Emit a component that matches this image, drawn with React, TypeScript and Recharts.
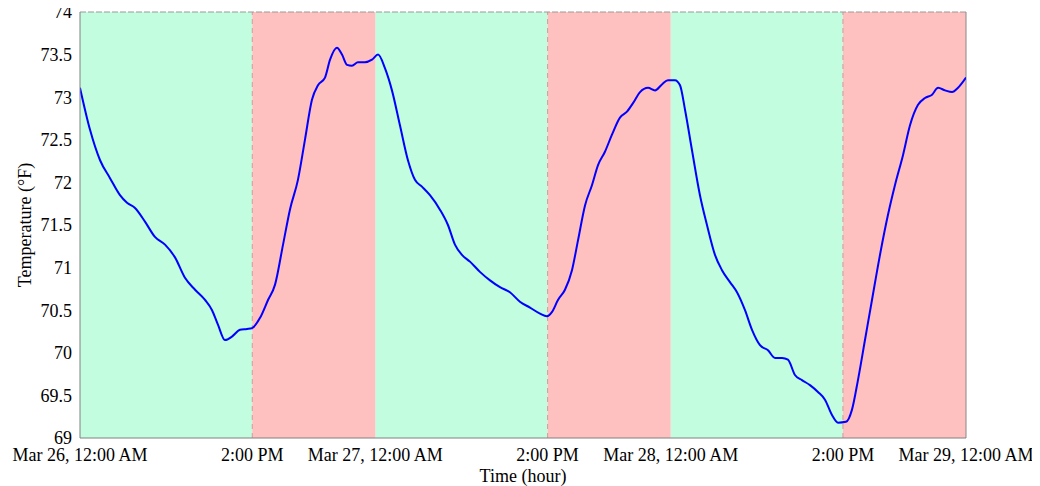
import React from 'react';
import {
  LineChart,
  Line,
  XAxis,
  YAxis,
  ReferenceArea,
  ReferenceLine,
} from 'recharts';

// hours since Mar 26, 12:00 AM
const hours = [
  0, 0.81, 1.63, 2.44, 3.25, 3.82, 4.47, 5.28, 6.09, 6.91, 7.72, 8.53, 9.35, 10.16, 10.73, 11.21,
  11.78, 12.35, 13.0, 13.57, 13.98, 14.63, 15.28, 15.85, 16.5, 17.06, 17.71, 18.28, 18.85, 19.34,
  19.91, 20.32, 20.88, 21.29, 21.7, 22.1, 22.59, 23.16, 23.73, 24.22, 24.78, 25.35, 26.0, 26.65,
  27.22, 27.79, 28.44, 29.25, 29.9, 30.47, 31.04, 31.69, 32.5, 33.32, 34.13, 34.94, 35.75, 36.57,
  37.38, 37.95, 38.36, 38.84, 39.41, 39.98, 40.47, 41.04, 41.61, 42.09, 42.66, 43.23, 43.88, 44.45,
  44.94, 45.51, 46.16, 46.73, 47.29, 47.78, 48.35, 48.76, 49.17, 49.73, 50.38, 50.95, 51.6, 52.17,
  52.82, 53.39, 54.04, 54.61, 55.26, 55.91, 56.48, 57.05, 57.53, 58.1, 58.67, 59.32, 59.97, 60.54,
  61.11, 61.6, 62.25, 62.73, 63.22, 63.79, 64.36, 65.01, 65.66, 66.23, 66.88, 67.45, 68.1, 68.67,
  69.24, 69.73, 70.3, 70.87, 71.35, 72,
];

const temps = [
  73.11, 72.62, 72.26, 72.05, 71.85, 71.76, 71.7, 71.54, 71.36, 71.27, 71.12, 70.88, 70.74, 70.62,
  70.5, 70.33, 70.15, 70.19, 70.27, 70.28, 70.29, 70.41, 70.62, 70.8, 71.27, 71.68, 72.03, 72.5,
  72.97, 73.14, 73.23, 73.44, 73.58, 73.5, 73.38, 73.37, 73.41, 73.41, 73.44, 73.5, 73.34, 73.08,
  72.67, 72.26, 72.03, 71.95, 71.85, 71.68, 71.5, 71.27, 71.15, 71.07, 70.95, 70.85, 70.77, 70.71,
  70.6, 70.53, 70.46, 70.43, 70.48, 70.62, 70.74, 70.97, 71.32, 71.73, 71.97, 72.2, 72.36, 72.56,
  72.76, 72.83, 72.93, 73.06, 73.11, 73.08, 73.15, 73.2, 73.2, 73.14, 72.85, 72.38, 71.85, 71.5,
  71.15, 70.97, 70.83, 70.71, 70.5, 70.27, 70.09, 70.03, 69.94, 69.94, 69.92, 69.74, 69.68, 69.62,
  69.54, 69.45, 69.27, 69.18, 69.19, 69.33, 69.68, 70.15, 70.62, 71.15, 71.62, 71.97, 72.32, 72.67,
  72.91, 72.99, 73.03, 73.11, 73.08, 73.06, 73.11, 73.23,
];

const xTicks = [0, 14, 24, 38, 48, 62, 72];
const xTickLabels = [
  'Mar 26, 12:00 AM',
  '2:00 PM',
  'Mar 27, 12:00 AM',
  '2:00 PM',
  'Mar 28, 12:00 AM',
  '2:00 PM',
  'Mar 29, 12:00 AM',
];
const yTicks = [69, 69.5, 70, 70.5, 71, 71.5, 72, 72.5, 73, 73.5, 74];

// periods: [start, end] in hours
const coolPeriods = [
  [0, 14],
  [24, 38],
  [48, 62],
];
const warmPeriods = [
  [14, 24],
  [38, 48],
  [62, 72],
];
const switchHours = [14, 38, 62];

const data = hours.map((h, i) => ({ h, t: temps[i] }));

const FONT = '"Liberation Serif", "Times New Roman", serif';
const tickStyle = { fontFamily: FONT, fontSize: 18, fill: '#000' };
const labelStyle = { fontFamily: FONT, fontSize: 18, fill: '#000', textAnchor: 'middle' as const };

export default function App() {
  return (
    <div style={{ width: 1040, height: 486, margin: '-8px 0 0 -8px' }}>
      <LineChart
        width={1040}
        height={486}
        data={data}
        margin={{ top: 12, right: 74, left: 20, bottom: 0 }}
      >
        {coolPeriods.map(([a, b], i) => (
          <ReferenceArea key={`c${i}`} x1={a} x2={b} y1={69} y2={74} fill="#c3fddf" fillOpacity={1} stroke="none" />
        ))}
        {warmPeriods.map(([a, b], i) => (
          <ReferenceArea key={`w${i}`} x1={a} x2={b} y1={69} y2={74} fill="#ffc0c0" fillOpacity={1} stroke="none" />
        ))}
        {switchHours.map((h) => (
          <ReferenceLine key={`s${h}`} x={h} stroke="#d09a9a" strokeDasharray="5 4" />
        ))}
        <ReferenceLine y={74} stroke="#999" strokeDasharray="6 2" />
        <ReferenceLine x={72} stroke="#888" />
        <XAxis
          dataKey="h"
          type="number"
          domain={[0, 72]}
          ticks={xTicks}
          tickFormatter={(v: number) => xTickLabels[xTicks.indexOf(v)]}
          tickLine={false}
          tickMargin={4}
          stroke="#808080"
          tick={tickStyle}
          height={48}
          interval={0}
          allowDataOverflow
          label={{ value: 'Time (hour)', position: 'insideBottom', offset: 4, style: labelStyle }}
        />
        <YAxis
          type="number"
          domain={[69, 74]}
          ticks={yTicks}
          tickLine={false}
          stroke="#808080"
          tick={tickStyle}
          width={60}
          interval={0}
          label={{
            value: 'Temperature (°F)',
            angle: -90,
            position: 'insideLeft',
            offset: 5,
            style: labelStyle,
          }}
        />
        <Line
          type="monotone"
          dataKey="t"
          stroke="#0000ff"
          strokeWidth={2}
          dot={false}
          isAnimationActive={false}
        />
      </LineChart>
    </div>
  );
}
